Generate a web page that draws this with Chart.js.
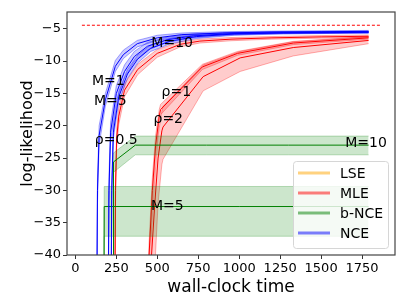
<!DOCTYPE html>
<html>
<head>
<meta charset="utf-8">
<script src="https://cdn.jsdelivr.net/npm/chart.js@4.4.1/dist/chart.umd.min.js"></script>
<style>
  html, body { margin: 0; padding: 0; background: #fff; }
  #wrap { width: 407px; height: 305px; }
</style>
</head>
<body>
<div id="wrap"><canvas id="chart" width="407" height="305"></canvas></div>
<script>
// axis ticks
const xTicks = [0, 250, 500, 750, 1000, 1250, 1500, 1750];
const yTicks = [-40, -35, -30, -25, -20, -15, -10, -5];

// NCE (blue), M = 1, 5, 10
const nceTime1 = [128, 135, 145, 183, 244, 293, 378, 500, 650, 900, 1200, 1500, 1790];
const nceMean1 = [-60, -30, -21.5, -16, -10.8, -9.0, -7.3, -6.4, -5.9, -5.65, -5.5, -5.45, -5.4];
const nceLo1 = [-65, -32, -23, -17, -11.6, -9.6, -7.8, -6.8, -6.2, -5.9, -5.7, -5.65, -5.6];
const nceHi1 = [-55, -28, -20, -15.0, -9.9, -8.3, -6.8, -6.0, -5.65, -5.45, -5.35, -5.3, -5.25];

const nceTime5 = [198, 205, 215, 250, 300, 360, 440, 560, 720, 950, 1250, 1550, 1790];
const nceMean5 = [-60, -30, -21, -15, -11.6, -9.3, -7.7, -6.7, -6.1, -5.75, -5.6, -5.55, -5.5];
const nceLo5 = [-65, -32, -22.5, -16.2, -12.6, -10.1, -8.3, -7.1, -6.4, -5.95, -5.75, -5.7, -5.65];
const nceHi5 = [-55, -28, -19.5, -13.8, -10.6, -8.5, -7.1, -6.3, -5.8, -5.55, -5.45, -5.4, -5.35];

const nceTime10 = [215, 222, 232, 265, 318, 380, 460, 580, 740, 970, 1270, 1560, 1790];
const nceMean10 = [-60, -30, -21, -15.5, -12, -9.7, -8.0, -6.9, -6.2, -5.8, -5.65, -5.6, -5.55];
const nceLo10 = [-65, -31.5, -22, -16.3, -12.7, -10.3, -8.5, -7.3, -6.5, -6.0, -5.8, -5.72, -5.67];
const nceHi10 = [-55, -28.5, -20, -14.7, -11.3, -9.1, -7.5, -6.5, -5.9, -5.6, -5.5, -5.48, -5.43];

// MLE (red), rho = 0.5, 1, 2
const mleTime05 = [238, 245, 252, 265, 300, 380, 500, 640, 760, 950, 1200, 1500, 1790];
const mleMean05 = [-60, -30, -22, -18.5, -14.5, -11.3, -8.8, -7.4, -6.9, -6.6, -6.4, -6.25, -6.15];
const mleLo05 = [-65, -32, -23.5, -19.8, -15.5, -12.1, -9.4, -7.8, -7.2, -6.85, -6.6, -6.45, -6.35];
const mleHi05 = [-55, -28, -20.5, -17.2, -13.5, -10.5, -8.2, -7.0, -6.6, -6.35, -6.2, -6.05, -5.95];

const mleTime1 = [430, 450, 470, 490, 512, 520, 775, 990, 1330, 1790];
const mleMean1 = [-60, -40, -30, -23, -18.5, -17.5, -10.9, -8.8, -7.2, -6.4];
const mleLo1 = [-65, -42, -32, -24.5, -19.5, -18.3, -11.3, -9.1, -7.45, -6.6];
const mleHi1 = [-55, -38, -28, -21.5, -17.5, -16.7, -10.5, -8.5, -6.95, -6.2];

const mleTime2 = [445, 465, 485, 505, 528, 535, 780, 1006, 1330, 1790];
const mleMean2 = [-60, -40, -32, -25, -20.8, -20.2, -12.4, -9.5, -7.9, -6.8];
const mleLo2 = [-70, -52, -42, -32, -26, -25.2, -14.6, -11.6, -9.2, -7.3];
const mleHi2 = [-55, -36, -28, -21.5, -17.8, -17, -10.6, -8.5, -7.0, -6.25];

// b-NCE (green), M = 5, 10
const bnceTime5 = [170, 176, 500, 1000, 1500, 1790];
const bnceMean5 = [-100, -32.5, -32.5, -32.5, -32.5, -32.5];
const bnceLo5 = [-105, -37.1, -37.1, -37.1, -37.1, -37.1];
const bnceHi5 = [-95, -29.4, -29.4, -29.4, -29.4, -29.4];

const bnceTime10 = [230, 233, 366, 800, 1300, 1790];
const bnceMean10 = [-100, -25.6, -23.0, -23.0, -23.0, -23.0];
const bnceLo10 = [-105, -27.2, -24.5, -24.5, -24.5, -24.5];
const bnceHi10 = [-95, -24.2, -21.6, -21.6, -21.6, -21.6];

// reference level (dashed)
const refTime = [40, 1860];
const refValue = [-4.45, -4.45];

// curve labels
const labelText = ["M=10", "M=1", "M=5", "ρ=1", "ρ=2", "ρ=0.5", "M=10", "M=5"];
const labelX = [591, 201, 213, 616, 567, 250, 1774, 561];
const labelY = [-7.2, -13.2, -16.2, -14.9, -19.0, -22.2, -22.8, -32.4];

// legend
const legendNames = ["LSE", "MLE", "b-NCE", "NCE"];
const legendColors = ["rgba(255,165,0,0.5)", "rgba(255,0,0,0.5)", "rgba(0,128,0,0.5)", "rgba(0,0,255,0.5)"];

const FONT = "'DejaVu Sans', sans-serif";

function pts(t, v) {
  return t.map((x, i) => ({ x: x, y: v[i] }));
}

const datasets = [];
function addCurve(t, mean, lo, hi, line, band, edge) {
  const hiIdx = datasets.length;
  datasets.push({ data: pts(t, hi), borderColor: edge, borderWidth: 1,
    backgroundColor: band, fill: { target: hiIdx + 1 } });
  datasets.push({ data: pts(t, lo), borderColor: edge, borderWidth: 1, fill: false });
  datasets.push({ data: pts(t, mean), borderColor: line, borderWidth: 1, fill: false });
}

addCurve(mleTime05, mleMean05, mleLo05, mleHi05, "#ff0000", "rgba(255,0,0,0.2)", "rgba(255,0,0,0.3)");
addCurve(mleTime1, mleMean1, mleLo1, mleHi1, "#ff0000", "rgba(255,0,0,0.2)", "rgba(255,0,0,0.3)");
addCurve(mleTime2, mleMean2, mleLo2, mleHi2, "#ff0000", "rgba(255,0,0,0.2)", "rgba(255,0,0,0.3)");
addCurve(bnceTime5, bnceMean5, bnceLo5, bnceHi5, "#008000", "rgba(0,128,0,0.2)", "rgba(0,128,0,0.25)");
addCurve(bnceTime10, bnceMean10, bnceLo10, bnceHi10, "#008000", "rgba(0,128,0,0.2)", "rgba(0,128,0,0.25)");
addCurve(nceTime1, nceMean1, nceLo1, nceHi1, "#0000ff", "rgba(0,0,255,0.2)", "rgba(0,0,255,0.35)");
addCurve(nceTime5, nceMean5, nceLo5, nceHi5, "#0000ff", "rgba(0,0,255,0.2)", "rgba(0,0,255,0.35)");
addCurve(nceTime10, nceMean10, nceLo10, nceHi10, "#0000ff", "rgba(0,0,255,0.2)", "rgba(0,0,255,0.35)");
datasets.push({ data: pts(refTime, refValue), borderColor: "#ff0000", borderWidth: 1,
  borderDash: [3, 2], fill: false });

datasets.forEach((d, i) => {
  d.order = -i;
  d.pointRadius = 0;
  d.tension = 0;
});

const fmt = v => (v < 0 ? "\u2212" + Math.abs(v) : String(v));

// frame, text labels and legend drawn on top of the data
const overlay = {
  id: "overlay",
  afterDatasetsDraw(chart) {
    const { ctx, chartArea: a, scales } = chart;
    ctx.save();
    ctx.fillStyle = "#000";
    ctx.font = "14px " + FONT;
    ctx.textAlign = "center";
    ctx.textBaseline = "middle";
    labelText.forEach((s, i) => {
      ctx.fillText(s, scales.x.getPixelForValue(labelX[i]), scales.y.getPixelForValue(labelY[i]));
    });

    ctx.strokeStyle = "#444";
    ctx.lineWidth = 1.2;
    ctx.strokeRect(a.left, a.top, a.right - a.left, a.bottom - a.top);

    // legend box
    const bx = 293.5, by = 161.5, bw = 95, bh = 87, r = 3;
    ctx.beginPath();
    ctx.roundRect(bx, by, bw, bh, r);
    ctx.fillStyle = "rgba(255,255,255,0.8)";
    ctx.fill();
    ctx.strokeStyle = "#d6d6d6";
    ctx.lineWidth = 1;
    ctx.stroke();
    ctx.textAlign = "left";
    legendNames.forEach((n, i) => {
      const y = 173 + i * 20;
      ctx.strokeStyle = legendColors[i];
      ctx.lineWidth = 3;
      ctx.beginPath();
      ctx.moveTo(298, y);
      ctx.lineTo(330, y);
      ctx.stroke();
      ctx.fillStyle = "#000";
      ctx.fillText(n, 340, y + 1);
    });
    ctx.restore();
  }
};

new Chart(document.getElementById("chart"), {
  type: "line",
  data: { datasets: datasets },
  plugins: [overlay],
  options: {
    responsive: false,
    animation: false,
    events: [],
    layout: { padding: { left: 0, right: 12, top: 12, bottom: 0 } },
    plugins: { legend: { display: false }, tooltip: { enabled: false } },
    scales: {
      x: {
        type: "linear",
        min: -51,
        max: 1951,
        afterBuildTicks: s => { s.ticks = xTicks.map(v => ({ value: v })); },
        afterFit: s => { s.height = 50; },
        grid: { display: true, drawOnChartArea: false, drawTicks: true, tickLength: 4, color: "#333" },
        border: { display: false },
        ticks: { color: "#000", font: { family: FONT, size: 13 }, padding: 2, maxRotation: 0, callback: fmt },
        title: { display: true, text: "wall-clock time", color: "#000",
          font: { family: FONT, size: 17 }, padding: { top: 0, bottom: 7 } }
      },
      y: {
        type: "linear",
        min: -40,
        max: -2.4,
        afterBuildTicks: s => { s.ticks = yTicks.map(v => ({ value: v })); },
        afterFit: s => { s.width = 67; },
        grid: { display: true, drawOnChartArea: false, drawTicks: true, tickLength: 4, color: "#333" },
        border: { display: false },
        ticks: { color: "#000", font: { family: FONT, size: 13 }, padding: 2, callback: fmt },
        title: { display: true, text: "log-likelihood", color: "#000",
          font: { family: FONT, size: 16 }, padding: { top: 18, bottom: 0 } }
      }
    }
  }
});
</script>
</body>
</html>
